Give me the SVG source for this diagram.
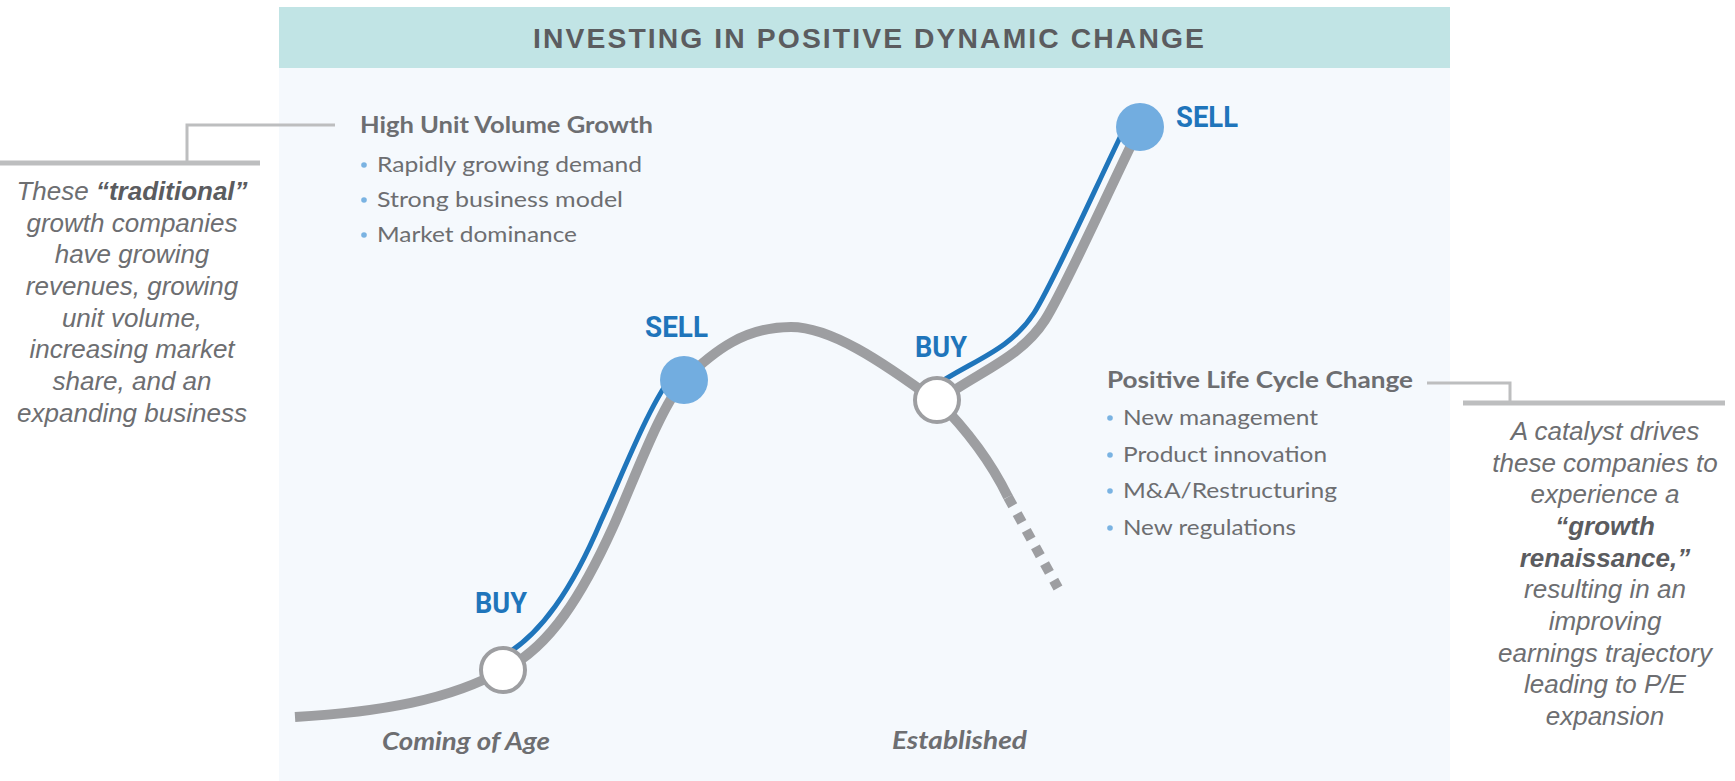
<svg xmlns="http://www.w3.org/2000/svg" width="1735" height="781" viewBox="0 0 1735 781">
<style>
.title{font-family:"Liberation Sans",Arial,sans-serif;font-weight:bold;font-size:27px;fill:#5b5c5f;letter-spacing:2px}
.head{font-family:Lato,"Open Sans",sans-serif;font-weight:bold;font-size:22px;fill:#6d6e71}
.item{font-family:Lato,"Open Sans",sans-serif;font-size:22px;fill:#6d6e71}
.dot{fill:#7ab3e2}
.note{font-family:"Liberation Sans",Arial,sans-serif;font-style:italic;font-size:26px;fill:#6d6e71;text-anchor:middle}
.note .b{font-weight:bold;fill:#5b5c5f}
.tag{font-family:Roboto,"Liberation Sans",sans-serif;font-weight:bold;font-size:29px;fill:#1f75bb}
.stage{font-family:Lato,"Open Sans",sans-serif;font-weight:bold;font-style:italic;font-size:24px;fill:#6d6e71}
.gray{fill:none;stroke:#9d9ea1;stroke-width:10}
.blue{fill:none;stroke:#1f75bb;stroke-width:5}
.buy{fill:#ffffff;stroke:#9d9ea1;stroke-width:4}
.sell{fill:#72ade0}
.thin{fill:none;stroke:#bdbebf;stroke-width:3}
.thick{fill:none;stroke:#bdbebf;stroke-width:5}
</style>
<rect x="0" y="0" width="1735" height="781" fill="#ffffff"/>
<g id="panel">
<rect x="279" y="68" width="1171" height="713" fill="#f5f9fd"/>
<rect x="279" y="7" width="1171" height="61" fill="#c1e4e5"/>
<text class="title" x="533" y="48" textLength="673" lengthAdjust="spacingAndGlyphs">INVESTING IN POSITIVE DYNAMIC CHANGE</text>
</g>
<g id="connectors">
<polyline class="thick" points="0,163 260,163"/>
<polyline class="thin" points="187,163 187,125 335,125"/>
<polyline class="thin" points="1427,383 1510,383 1510,403"/>
<polyline class="thick" points="1463,403 1725,403"/>
</g>
<g id="curve">
<path class="gray" d="M295,717 C380,712 450,700 503,670 C550,648 583,593 613,527 C635,478 659,410 684,380 C715,350 745,327 791,327 C830,327 880,360 937,402 C977,372 1020,359 1045,320 C1065,289 1115,177 1140,127"/>
<path class="gray" d="M937,400 C965,428 990,460 1008,497"/>
<path class="gray" d="M1008,497 L1058,588" stroke-dasharray="10 9"/>
<path class="blue" d="M496,660 C541,638 574,585 601,521 C623,473 650,402 675,372"/>
<path class="blue" d="M930,389 C970,361 1009,352 1034,313 C1054,282 1103,171 1128,121"/>
</g>
<g id="buy1">
<circle class="buy" cx="503" cy="670" r="22"/>
<text class="tag" x="475" y="613" textLength="52" lengthAdjust="spacingAndGlyphs">BUY</text>
</g>
<g id="sell1">
<circle class="sell" cx="684" cy="380" r="24"/>
<text class="tag" x="645" y="337" textLength="63" lengthAdjust="spacingAndGlyphs">SELL</text>
</g>
<g id="buy2">
<circle class="buy" cx="937" cy="400" r="22"/>
<text class="tag" x="915" y="357" textLength="52" lengthAdjust="spacingAndGlyphs">BUY</text>
</g>
<g id="sell2">
<circle class="sell" cx="1140" cy="127" r="24"/>
<text class="tag" x="1176" y="127" textLength="62" lengthAdjust="spacingAndGlyphs">SELL</text>
</g>
<g id="stage-coming">
<text class="stage" x="382" y="750" textLength="168" lengthAdjust="spacingAndGlyphs">Coming of Age</text>
</g>
<g id="stage-established">
<text class="stage" x="892" y="749" textLength="135" lengthAdjust="spacingAndGlyphs">Established</text>
</g>
<g id="high-unit">
<text class="head" x="360" y="133" textLength="293" lengthAdjust="spacingAndGlyphs">High Unit Volume Growth</text>
<circle class="dot" cx="364" cy="165" r="2.8"/>
<text class="item" x="377" y="172" textLength="265" lengthAdjust="spacingAndGlyphs">Rapidly growing demand</text>
<circle class="dot" cx="364" cy="200" r="2.8"/>
<text class="item" x="377" y="207" textLength="246" lengthAdjust="spacingAndGlyphs">Strong business model</text>
<circle class="dot" cx="364" cy="235" r="2.8"/>
<text class="item" x="377" y="242" textLength="200" lengthAdjust="spacingAndGlyphs">Market dominance</text>
</g>
<g id="life-cycle">
<text class="head" x="1107" y="388" textLength="306" lengthAdjust="spacingAndGlyphs">Positive Life Cycle Change</text>
<circle class="dot" cx="1110" cy="418" r="2.8"/>
<text class="item" x="1123" y="425" textLength="195" lengthAdjust="spacingAndGlyphs">New management</text>
<circle class="dot" cx="1110" cy="455" r="2.8"/>
<text class="item" x="1123" y="462" textLength="204" lengthAdjust="spacingAndGlyphs">Product innovation</text>
<circle class="dot" cx="1110" cy="491" r="2.8"/>
<text class="item" x="1123" y="498" textLength="214" lengthAdjust="spacingAndGlyphs">M&amp;A/Restructuring</text>
<circle class="dot" cx="1110" cy="528" r="2.8"/>
<text class="item" x="1123" y="535" textLength="173" lengthAdjust="spacingAndGlyphs">New regulations</text>
</g>
<g id="note-left">
<text class="note" x="132" y="200">These <tspan class="b">“traditional”</tspan></text>
<text class="note" x="132" y="232">growth companies</text>
<text class="note" x="132" y="263">have growing</text>
<text class="note" x="132" y="295">revenues, growing</text>
<text class="note" x="132" y="327">unit volume,</text>
<text class="note" x="132" y="358">increasing market</text>
<text class="note" x="132" y="390">share, and an</text>
<text class="note" x="132" y="422">expanding business</text>
</g>
<g id="note-right">
<text class="note" x="1605" y="440">A catalyst drives</text>
<text class="note" x="1605" y="472">these companies to</text>
<text class="note" x="1605" y="503">experience a</text>
<text class="note" x="1605" y="535"><tspan class="b">“growth</tspan></text>
<text class="note" x="1605" y="567"><tspan class="b">renaissance,”</tspan></text>
<text class="note" x="1605" y="598">resulting in an</text>
<text class="note" x="1605" y="630">improving</text>
<text class="note" x="1605" y="662">earnings trajectory</text>
<text class="note" x="1605" y="693">leading to P/E</text>
<text class="note" x="1605" y="725">expansion</text>
</g>
</svg>
